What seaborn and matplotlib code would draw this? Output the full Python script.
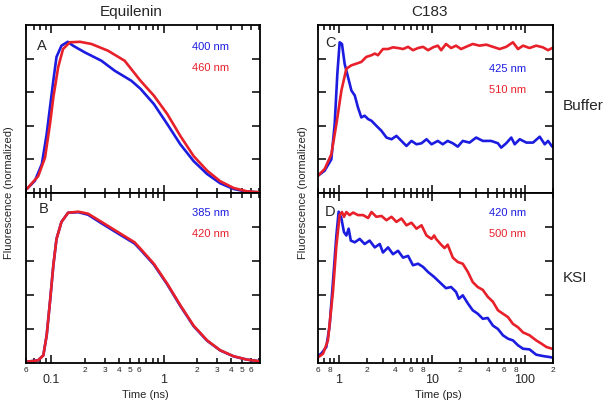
import numpy as np
import matplotlib
matplotlib.use("Agg")
import matplotlib.pyplot as plt
import matplotlib.ticker as mticker
import seaborn as sns

# Equilenin, panel A (time in ns)
t_a_blue = [0.061, 0.072, 0.083, 0.0916, 0.098, 0.105, 0.112, 0.124, 0.141, 0.157, 0.2, 0.281, 0.368,
            0.518, 0.625, 0.82, 1.08, 1.41, 1.85, 2.44, 3.19, 4.19, 5.5, 7.2]
a_blue = [0.024, 0.073, 0.173, 0.351, 0.51, 0.67, 0.81, 0.877, 0.90, 0.877, 0.837, 0.787, 0.728,
          0.668, 0.62, 0.53, 0.41, 0.29, 0.19, 0.113, 0.058, 0.024, 0.008, 0.004]
t_a_red = [0.061, 0.077, 0.0885, 0.098, 0.105, 0.116, 0.128, 0.147, 0.181, 0.229, 0.321, 0.452,
           0.625, 0.82, 1.08, 1.41, 1.85, 2.44, 3.19, 4.19, 5.5, 7.2]
a_red = [0.024, 0.10, 0.21, 0.41, 0.57, 0.75, 0.857, 0.897, 0.90, 0.887, 0.847, 0.787,
         0.668, 0.58, 0.47, 0.34, 0.22, 0.133, 0.07, 0.03, 0.01, 0.004]

# Equilenin, panel B
t_b = [0.059, 0.077, 0.0855, 0.0916, 0.098, 0.105, 0.112, 0.124, 0.142, 0.175, 0.214, 0.281, 0.394,
       0.553, 0.625, 0.82, 1.08, 1.41, 1.85, 2.44, 3.19, 4.19, 5.5, 7.2]
b_red = [0.006, 0.016, 0.045, 0.163, 0.36, 0.575, 0.73, 0.83, 0.884, 0.89, 0.878, 0.83, 0.77,
         0.71, 0.672, 0.584, 0.466, 0.34, 0.22, 0.133, 0.075, 0.04, 0.02, 0.01]
b_blue = [0.006, 0.016, 0.045, 0.163, 0.36, 0.575, 0.73, 0.83, 0.884, 0.887, 0.872, 0.822, 0.762,
          0.703, 0.666, 0.579, 0.462, 0.336, 0.217, 0.131, 0.074, 0.039, 0.02, 0.01]

# C183 in buffer, panel C (time in ps)
t_c_blue = [0.60, 0.707, 0.834, 0.906, 0.968, 1.025, 1.085, 1.16, 1.26, 1.37, 1.49, 1.61, 1.75, 1.90,
            2.07, 2.25, 2.54, 2.88, 3.26, 3.69, 4.17, 4.72, 5.34, 6.05, 6.85, 7.75, 8.77, 9.93,
            11.6, 13.1, 14.8, 16.8, 19.0, 21.5, 25.4, 29.9, 35.3, 43.4, 51.3, 55.5, 62.9, 71.3,
            77.6, 87.9, 103.7, 122, 144, 163, 177, 196]
c_blue = [0.103, 0.133, 0.20, 0.41, 0.71, 0.897, 0.887, 0.768, 0.69, 0.61, 0.58, 0.51, 0.45, 0.46,
          0.44, 0.43, 0.40, 0.37, 0.33, 0.32, 0.34, 0.31, 0.28, 0.31, 0.29, 0.296, 0.32, 0.29,
          0.31, 0.29, 0.31, 0.296, 0.276, 0.31, 0.30, 0.33, 0.31, 0.31, 0.296, 0.27, 0.296, 0.33,
          0.29, 0.32, 0.30, 0.30, 0.335, 0.29, 0.31, 0.276]
t_c_red = [0.60, 0.707, 0.834, 0.945, 1.07, 1.21, 1.37, 1.55, 1.75, 1.98, 2.25, 2.44, 2.64, 2.99,
           3.39, 3.83, 4.34, 4.91, 5.56, 6.28, 7.12, 8.06, 9.12, 10.3, 11.6, 12.6, 14.2, 16.1,
           18.2, 20.6, 23.3, 27.5, 32.5, 38.4, 45.3, 53.5, 62.9, 74.3, 84.2, 95.3, 112, 132,
           156, 177, 196]
c_red = [0.103, 0.143, 0.23, 0.41, 0.61, 0.74, 0.76, 0.77, 0.78, 0.81, 0.82, 0.83, 0.82, 0.857,
         0.857, 0.867, 0.863, 0.857, 0.87, 0.85, 0.863, 0.87, 0.85, 0.867, 0.877, 0.85, 0.887, 0.863,
         0.877, 0.857, 0.87, 0.887, 0.877, 0.883, 0.87, 0.857, 0.87, 0.897, 0.857, 0.877, 0.863, 0.877,
         0.867, 0.85, 0.863]

# C183 bound to KSI, panel D
t_d_blue = [0.576, 0.65, 0.737, 0.80, 0.868, 0.945, 1.0, 1.07, 1.14, 1.21, 1.28, 1.35, 1.49, 1.68,
            1.90, 2.15, 2.44, 2.76, 2.99, 3.39, 3.83, 4.34, 4.91, 5.56, 6.28, 7.12, 8.06, 9.12,
            10.6, 12.1, 14.2, 16.1, 18.2, 19.5, 21.5, 24.4, 27.5, 31.1, 35.3, 39.8, 45.3, 51.3,
            58.0, 65.7, 74.3, 84.2, 95.3, 112, 132, 156, 184, 200]
d_blue = [0.035, 0.055, 0.094, 0.22, 0.476, 0.75, 0.89, 0.85, 0.77, 0.75, 0.79, 0.72, 0.71, 0.73,
          0.70, 0.72, 0.68, 0.70, 0.65, 0.68, 0.64, 0.66, 0.62, 0.63, 0.575, 0.584, 0.565, 0.535,
          0.506, 0.476, 0.44, 0.447, 0.418, 0.378, 0.398, 0.35, 0.31, 0.29, 0.26, 0.265, 0.22, 0.20,
          0.163, 0.143, 0.133, 0.104, 0.084, 0.08, 0.049, 0.041, 0.035, 0.031]
t_d_red = [0.576, 0.68, 0.767, 0.868, 0.945, 1.025, 1.085, 1.14, 1.21, 1.31, 1.43, 1.61, 1.83, 2.07,
           2.25, 2.54, 2.88, 3.26, 3.69, 4.17, 4.72, 5.34, 6.05, 6.85, 7.75, 8.77, 9.93, 10.6,
           11.1, 12.6, 13.7, 14.8, 16.8, 19.0, 21.5, 24.4, 27.5, 31.1, 35.3, 39.8, 45.3, 51.3,
           58, 65.7, 74.3, 84.2, 95.3, 112, 132, 150, 170, 195]
d_red = [0.025, 0.055, 0.133, 0.418, 0.69, 0.87, 0.888, 0.86, 0.888, 0.87, 0.885, 0.87, 0.87, 0.853,
         0.888, 0.86, 0.865, 0.84, 0.86, 0.83, 0.85, 0.81, 0.825, 0.79, 0.81, 0.75, 0.73, 0.75,
         0.73, 0.696, 0.676, 0.696, 0.62, 0.594, 0.584, 0.535, 0.476, 0.447, 0.43, 0.39, 0.36, 0.31,
         0.29, 0.27, 0.23, 0.21, 0.18, 0.163, 0.133, 0.114, 0.094, 0.084]

BLUE = "#1c1ce0"
RED = "#e8202a"

sns.set_style("ticks")
plt.rcParams['font.family'] = ['Liberation Sans', 'DejaVu Sans']

W, H = 612, 404
fig = plt.figure(figsize=(W / 100, H / 100), dpi=100)


def box(x0, y0, x1, y1):
    return [x0 / W, 1 - y1 / H, (x1 - x0) / W, (y1 - y0) / H]


ax_a = fig.add_axes(box(26, 25, 260, 193))
ax_b = fig.add_axes(box(26, 193, 260, 363))
ax_c = fig.add_axes(box(318, 25, 553, 193))
ax_d = fig.add_axes(box(318, 193, 553, 363))


def draw(ax, t, y, color):
    sns.lineplot(x=t, y=y, ax=ax, color=color, lw=1.9, estimator=None, sort=False)


draw(ax_a, t_a_blue, a_blue, BLUE)
draw(ax_a, t_a_red, a_red, RED)
draw(ax_b, t_b, b_blue, BLUE)
draw(ax_b, t_b, b_red, RED)
draw(ax_c, t_c_blue, c_blue, BLUE)
draw(ax_c, t_c_red, c_red, RED)
draw(ax_d, t_d_blue, d_blue, BLUE)
draw(ax_d, t_d_red, d_red, RED)


def style(ax, xlim, minor_show, bottom_labels):
    ax.set_xscale("log")
    ax.set_xlim(*xlim)
    ax.set_ylim(0, 1)
    ax.set_yticks([0.2, 0.4, 0.6, 0.8])
    ax.set_yticklabels([])
    ax.xaxis.set_minor_locator(mticker.LogLocator(base=10, subs=np.arange(2, 10)))

    def minor_fmt(x, pos):
        m = int(round(x / 10 ** np.floor(np.log10(x) + 1e-9)))
        return str(m) if m in minor_show else ""

    ax.xaxis.set_minor_formatter(mticker.FuncFormatter(minor_fmt))
    ax.xaxis.set_major_formatter(mticker.FuncFormatter(lambda x, p: "%g" % x))
    ax.tick_params(axis="both", which="both", direction="in", top=True, right=True,
                   width=1.1, color="black")
    ax.tick_params(axis="y", which="major", length=6)
    ax.tick_params(axis="x", which="major", length=6, pad=8, labelsize=9)
    ax.tick_params(axis="x", which="minor", length=3.5, pad=3, labelsize=6)
    if not bottom_labels:
        ax.tick_params(axis="x", which="both", labelbottom=False)
    for s in ax.spines.values():
        s.set_linewidth(1.3)
        s.set_color("black")
    ax.set_xlabel("")
    ax.set_ylabel("")


style(ax_a, (0.06, 7.2), (2, 3, 4, 5, 6), False)
style(ax_b, (0.06, 7.2), (2, 3, 4, 5, 6), True)
style(ax_c, (0.6, 200), (2, 4, 6, 8), False)
style(ax_d, (0.6, 200), (2, 4, 6, 8), True)

# panel letters and wavelength labels
for ax, letter, x, y in [(ax_a, "A", 0.045, 0.875), (ax_b, "B", 0.055, 0.905),
                         (ax_c, "C", 0.032, 0.895), (ax_d, "D", 0.030, 0.89)]:
    ax.text(x, y, letter, transform=ax.transAxes, fontsize=10.5, va="center", ha="left")

labels = [(ax_a, 0.709, 0.869, 0.744, "400 nm", "460 nm"),
          (ax_b, 0.709, 0.882, 0.759, "385 nm", "420 nm"),
          (ax_c, 0.728, 0.738, 0.613, "425 nm", "510 nm"),
          (ax_d, 0.728, 0.882, 0.759, "420 nm", "500 nm")]
for ax, x, y1, y2, s1, s2 in labels:
    ax.text(x, y1, s1, transform=ax.transAxes, color=BLUE, fontsize=8, va="center", ha="left")
    ax.text(x, y2, s2, transform=ax.transAxes, color=RED, fontsize=8, va="center", ha="left")

fig.text(131 / W, 1 - 12 / H, "Equilenin", fontsize=11, ha="center", va="center")
fig.text(430 / W, 1 - 12 / H, "C183", fontsize=11, ha="center", va="center")
fig.text(563 / W, 1 - 106 / H, "Buffer", fontsize=11, ha="left", va="center")
fig.text(563 / W, 1 - 278 / H, "KSI", fontsize=11, ha="left", va="center")
fig.text(9 / W, 1 - 193 / H, "Fluorescence (normalized)", fontsize=8, rotation=90,
         ha="center", va="center")
fig.text(303 / W, 1 - 193 / H, "Fluorescence (normalized)", fontsize=8, rotation=90,
         ha="center", va="center")
fig.text(145 / W, 1 - 395 / H, "Time (ns)", fontsize=8, ha="center", va="center")
fig.text(438 / W, 1 - 395 / H, "Time (ps)", fontsize=8, ha="center", va="center")

fig.savefig("out.png", dpi=100)
